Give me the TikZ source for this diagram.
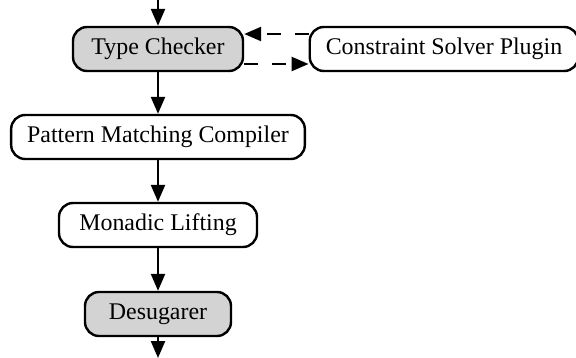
\documentclass[tikz,border=0pt]{standalone}
\usepackage{fontspec}
\setmainfont{Liberation Serif}
\usetikzlibrary{arrows.meta}
\definecolor{passgray}{RGB}{211,211,211}
\tikzset{
  stage/.style={draw, line width=1.2bp, rounded corners=7bp, minimum height=22bp, inner xsep=8bp, font=\fontsize{12}{14}\selectfont},
  shaded/.style={stage, fill=passgray},
  flow/.style={line width=1.2bp, -{Triangle[length=8.5bp,width=7bp]}},
  plug/.style={flow, dash pattern=on 7bp off 7bp}
}
\begin{document}
\begin{tikzpicture}[x=1bp,y=1bp]
  \useasboundingbox (0,0) rectangle (288,-179);
  %entrata e uscita
  \coordinate (in) at (79,0);
  \coordinate (out) at (79,-179);
  %fasi
  \node[shaded, minimum width=85bp] (tc) at (79,-24.5) {Type Checker};
  \node[stage, minimum width=131bp] (cs) at (222,-24.5) {Constraint Solver Plugin};
  \node[stage, minimum width=146bp] (pmc) at (79,-68.5) {Pattern Matching Compiler};
  \node[stage, minimum width=99bp] (ml) at (79,-112.5) {Monadic Lifting};
  \node[shaded, minimum width=73bp] (ds) at (79,-157) {Desugarer};
  %frecce
  \draw[flow] (in) -- (tc);
  \draw[flow] (tc) -- (pmc);
  \draw[flow] (pmc) -- (ml);
  \draw[flow] (ml) -- (ds);
  \draw[flow] (ds) -- (out);
  %plugin
  \draw[plug] ([yshift=7.5bp]cs.west) -- ([yshift=7.5bp]tc.east);
  \draw[plug] ([yshift=-7.5bp]tc.east) -- ([yshift=-7.5bp]cs.west);
\end{tikzpicture}
\end{document}
